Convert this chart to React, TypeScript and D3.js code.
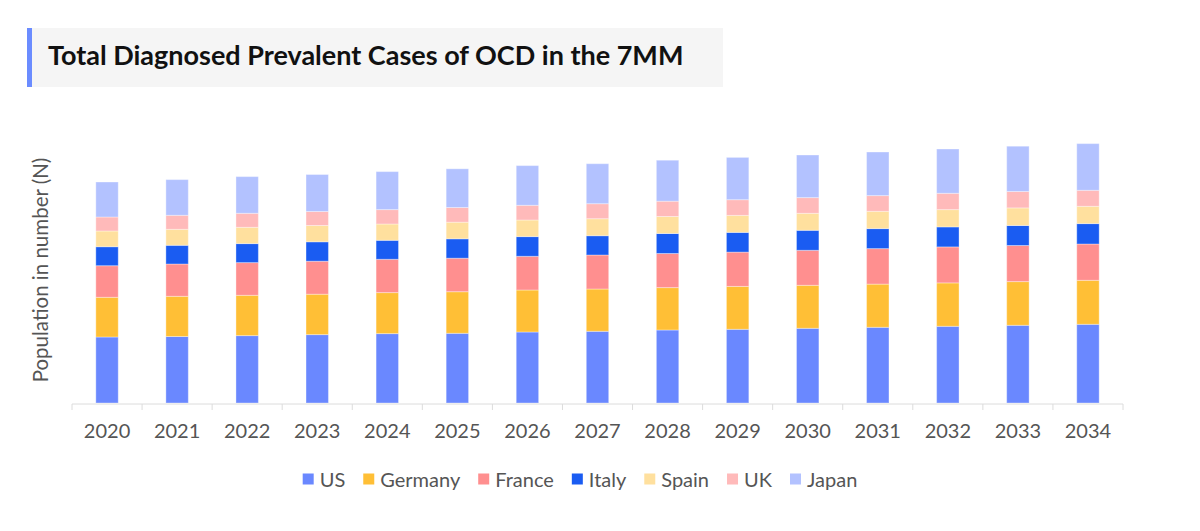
import React, { useEffect, useRef } from "react";
import * as d3 from "d3";

const years = ["2020","2021","2022","2023","2024","2025","2026","2027","2028","2029","2030","2031","2032","2033","2034"];
const seriesNames = ["US","Germany","France","Italy","Spain","UK","Japan"];
const usValues = [660, 665, 674, 684, 694, 697, 710, 717, 730, 737, 747, 757, 767, 777, 787];
const germanyValues = [397, 402, 403, 404, 410, 416, 420, 423, 424, 429, 430, 432, 434, 437, 440];
const franceValues = [316, 323, 327, 330, 333, 335, 337, 340, 341, 343, 350, 355, 360, 361, 363];
const italyValues = [190, 187, 190, 194, 190, 194, 197, 193, 200, 197, 200, 200, 200, 200, 204];
const spainValues = [157, 160, 163, 163, 163, 166, 166, 170, 170, 170, 170, 173, 173, 176, 173];
const ukValues = [140, 140, 140, 140, 144, 147, 147, 150, 153, 157, 157, 157, 163, 164, 160];
const japanValues = [350, 357, 367, 370, 380, 387, 397, 400, 410, 423, 426, 436, 443, 453, 467];
const colors = ["#6a88ff", "#ffbf36", "#ff8f8f", "#1a5cf2", "#ffe09e", "#ffbaba", "#b3c2ff"];

const titleText = "Total Diagnosed Prevalent Cases of OCD in the 7MM";
const yLabel = "Population in number (N)";

export default function App() {
  const ref = useRef<SVGSVGElement | null>(null);

  useEffect(() => {
    const svg = d3.select(ref.current);
    svg.selectAll("*").remove();
    const font = "Lato, 'Open Sans', sans-serif";

    const allSeries = [usValues, germanyValues, franceValues, italyValues, spainValues, ukValues, japanValues];
    const rows = years.map((y, i) => {
      const r: any = { year: y };
      seriesNames.forEach((s, k) => (r[s] = allSeries[k][i]));
      return r;
    });
    const stacked = d3.stack().keys(seriesNames)(rows);

    const x = d3.scaleBand().domain(years).range([72, 1123]).paddingInner(0.68).paddingOuter(0.34);
    const y = d3.scaleLinear().domain([0, 2600]).range([403, 143]);

    // Title box
    svg.append("rect").attr("x", 27).attr("y", 28).attr("width", 696).attr("height", 59).attr("fill", "#f5f5f5");
    svg.append("rect").attr("x", 27).attr("y", 28).attr("width", 5).attr("height", 59).attr("fill", "#6b8cff");
    svg.append("text").attr("x", 48).attr("y", 65).attr("font-family", font).attr("font-weight", 700)
      .attr("font-size", 27).attr("fill", "#111").text(titleText);

    // Y label
    svg.append("text").attr("transform", "translate(48,270) rotate(-90)").attr("text-anchor", "middle")
      .attr("font-family", font).attr("font-size", 20.5).attr("fill", "#555").text(yLabel);

    // Bars
    const g = svg.append("g");
    stacked.forEach((layer, k) => {
      g.selectAll(null).data(layer).enter().append("rect")
        .attr("x", (d: any) => x(d.data.year)!)
        .attr("width", x.bandwidth())
        .attr("y", (d: any) => y(d[1]))
        .attr("height", (d: any) => y(d[0]) - y(d[1]))
        .attr("fill", colors[k])
        .attr("stroke", "#ffffff")
        .attr("stroke-opacity", 0.35)
        .attr("stroke-width", 1);
    });

    // Axis
    const step = x.step();
    const off = (step - x.bandwidth()) / 2;
    const axisY = 404;
    svg.append("line").attr("x1", 72).attr("x2", 1123).attr("y1", axisY).attr("y2", axisY)
      .attr("stroke", "#dcdcdc").attr("stroke-width", 1);
    const tickXs = years.map((yr) => x(yr)! - off).concat([x(years[years.length - 1])! + x.bandwidth() + off]);
    svg.selectAll(null).data(tickXs).enter().append("line")
      .attr("x1", (d) => d).attr("x2", (d) => d).attr("y1", axisY).attr("y2", axisY + 6)
      .attr("stroke", "#dcdcdc").attr("stroke-width", 1);
    svg.selectAll(null).data(years).enter().append("text")
      .attr("x", (d) => x(d)! + x.bandwidth() / 2).attr("y", 438)
      .attr("text-anchor", "middle").attr("font-family", font).attr("font-size", 20).attr("fill", "#555")
      .text((d) => d);

    // Legend
    const lg = svg.append("g");
    let cx = 0;
    seriesNames.forEach((s, k) => {
      const ig = lg.append("g").attr("transform", `translate(${cx},0)`);
      ig.append("rect").attr("x", 0).attr("y", 473.5).attr("width", 11).attr("height", 11).attr("fill", colors[k]);
      const t = ig.append("text").attr("x", 17).attr("y", 486.5).attr("font-family", font).attr("font-size", 20)
        .attr("fill", "#555").text(s);
      const w = (t.node() as SVGTextElement).getComputedTextLength();
      cx += 17 + w + 18;
    });
    const total = cx - 18;
    lg.attr("transform", `translate(${580 - total / 2},0)`);
  }, []);

  return (
    <svg ref={ref} width={1200} height={531} style={{ position: "absolute", left: 0, top: 0, background: "#fff" }} />
  );
}
